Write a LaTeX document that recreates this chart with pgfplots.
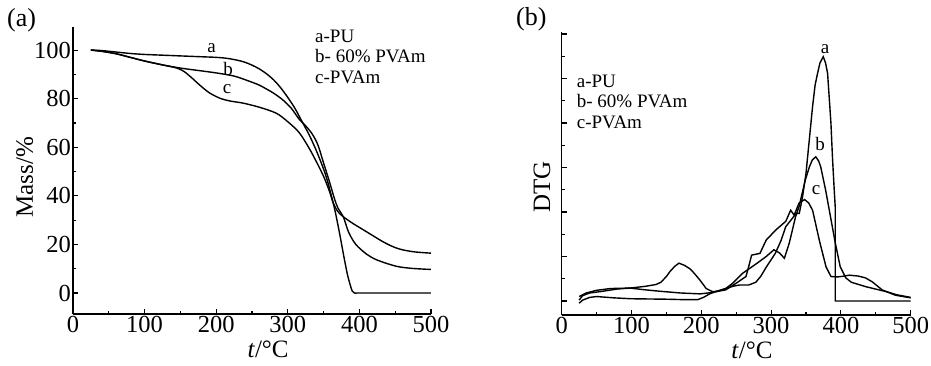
\documentclass[border=0pt]{standalone}
\usepackage{fontspec}
\setmainfont{Liberation Serif}
\usepackage{pgfplots}
\pgfplotsset{compat=1.18}
\begin{document}
\begin{tikzpicture}
\useasboundingbox (0pt,0pt) rectangle (931pt,-366pt);
\pgfplotsset{
  mystyle/.style={
    scale only axis, anchor=south west,
    axis x line*=bottom, axis y line*=left,
    axis line style={line width=1.3pt},
    tick align=inside, tick style={line width=1.1pt, black},
    major tick length=5pt, minor tick length=3pt,
    minor x tick num=1, minor y tick num=1,
    xmin=0, xmax=500, xtick={0,100,...,500},
    /pgf/number format/assume math mode=true,
    tick label style={font=\fontsize{24.5}{28}\selectfont, inner sep=2pt},
  },
  curve/.style={line width=1.4pt, black, no marks},
}
% ---------------- (a) TG ----------------
\begin{axis}[mystyle, at={(73pt,-314pt)}, width=358pt, height=287pt,
  ymin=-8.64, ymax=109.5, ytick={0,20,...,100},
  xlabel={\textit{t}/°C},
  xlabel style={font=\fontsize{25}{30}\selectfont, at={(axis description cs:0.545,0)}, anchor=base, yshift=-43pt},
  ylabel={Mass/\%},
  ylabel style={font=\fontsize{25}{30}\selectfont, at={(axis description cs:0,0.477)}, anchor=base, yshift=40pt},
]
\addplot[curve, smooth, tension=0.5] coordinates {
(25,100)(40,99.8)(60,99.2)(80,98.6)(100,98.2)(125,97.9)(150,97.6)(175,97.3)(200,97.0)(215,96.6)(230,95.8)(240,95)(250,93.8)(260,92.3)(270,90.3)(280,87.8)(290,84.5)(300,80.5)(310,76)(320,70.5)(330,65)(340,58.5)(350,51)(356,45.5)(360,41)(363.6,36.9)(368,31)(373,23.5)(378,15.5)(383,8)(387,3.5)(390,0.8)(393,0)(400,0)(450,0)(500,0)};
\addplot[curve, smooth, tension=0.5] coordinates {
(25,100)(40,99.5)(60,98.5)(80,97)(100,95.5)(125,93.9)(150,92.6)(175,91.6)(200,90.6)(225,89.3)(246,87.2)(260,85.6)(270,84)(280,82.3)(293,79.5)(305,76)(316,71.5)(325,68.8)(334,65.5)(342,61)(350,53.5)(358,46)(365,39)(370,35)(377.5,31.4)(385,25)(395,20)(410,16)(423,13.8)(440,12)(455,10.8)(475,10.1)(500,9.7)};
\addplot[curve, smooth, tension=0.5] coordinates {
(25,100)(40,99.5)(60,98.5)(80,97)(100,95.5)(125,93.9)(145,92.6)(155,91.2)(165,88.8)(177,85.6)(190,82.5)(205,80.2)(220,79)(237,78.2)(260,76.5)(284,74)(300,70.5)(316,66)(330,59.5)(340,54)(350,48)(358,42)(363.6,36.9)(370,33.5)(377.5,31.4)(390,28.8)(400,27)(410,25.2)(420,23.4)(430,21.6)(440,20)(450,18.7)(460,17.8)(475,17)(490,16.6)(500,16.4)};
\end{axis}
% ---------------- (b) DTG ----------------
\begin{axis}[mystyle, at={(561.7pt,-315pt)}, width=349pt, height=283pt,
  ymin=-0.315, ymax=6.045, ytick={0,1,...,6}, yticklabels={},
  xlabel={\textit{t}/°C},
  xlabel style={font=\fontsize{25}{30}\selectfont, at={(axis description cs:0.545,0)}, anchor=base, yshift=-43pt},
  ylabel={DTG},
  ylabel style={font=\fontsize{25}{30}\selectfont, at={(axis description cs:0,0.452)}, anchor=base, yshift=11.7pt},
]
% a - PU
\addplot[curve] coordinates {
(25,-0.05)(30,0.02)(40,0.08)(50,0.1)(75,0.07)(100,0.05)(150,0.04)(175,0.03)(195,0.03)(203,0.08)(212,0.16)(222,0.22)(235,0.28)(245,0.33)(255,0.36)(268,0.36)(278,0.42)(285,0.55)(293,0.76)(306,1.07)(314,1.35)(321,1.67)(330,1.85)(336,1.97)(340.4,1.97)(345,2.34)(350,2.87)(354.7,3.62)(359.4,4.37)(363,4.85)(366.6,5.12)(370,5.35)(374.7,5.49)(378,5.35)(380.9,5.12)(385.7,4.0)(388,3.2)(390.4,2.5)(391.9,2.1)(391.9,0)(400,0)(450,0)(500,0)};
% b - 60% PVAm
\addplot[curve] coordinates {
(25,0.1)(35,0.18)(50,0.24)(70,0.28)(98,0.29)(120,0.25)(140,0.22)(170,0.18)(198,0.16)(210,0.18)(222,0.21)(235,0.28)(245,0.4)(259,0.62)(280,0.85)(293,1.0)(304,1.15)(312,1.08)(319,0.96)(326,1.3)(335,1.89)(340,2.12)(349,2.72)(355,3.02)(359,3.17)(364,3.24)(368,3.15)(371,3.02)(378,2.5)(385,1.9)(392,1.3)(399,0.77)(407,0.52)(415,0.42)(436,0.32)(465,0.21)(480,0.14)(500,0.08)};
% c - PVAm
\addplot[curve] coordinates {
(25,0.02)(30,0.12)(40,0.18)(55,0.21)(80,0.27)(98,0.29)(120,0.33)(135,0.37)(142,0.42)(150,0.55)(155,0.66)(162,0.78)(168,0.85)(176,0.8)(184,0.72)(190,0.62)(198,0.47)(207,0.28)(216,0.21)(225,0.22)(235,0.25)(250,0.4)(264,0.55)(268,0.78)(272,1.03)(284,1.07)(293,1.37)(307,1.6)(321,1.79)(328,2.04)(333,1.93)(340,2.2)(348,2.28)(354,2.2)(359.4,2.04)(369,1.37)(378.6,0.77)(385.7,0.55)(395,0.54)(405,0.56)(412,0.58)(425,0.56)(435,0.52)(445,0.43)(459,0.25)(478,0.13)(500,0.07)};
\end{axis}
% panel letters, legends, curve labels
\node[anchor=base west, font=\fontsize{26}{30}\selectfont, inner sep=0pt] at (7pt,-26.5pt) {(a)};
\node[anchor=base west, font=\fontsize{26}{30}\selectfont, inner sep=0pt] at (516pt,-26pt) {(b)};
\begin{scope}[every node/.style={anchor=base west, font=\fontsize{19}{22}\selectfont, inner sep=0pt}]
\node at (315pt,-43pt) {a-PU};
\node at (315pt,-63pt) {b- 60\% PVAm};
\node at (315pt,-84pt) {c-PVAm};
\node at (576.7pt,-88pt) {a-PU};
\node at (576.7pt,-108pt) {b- 60\% PVAm};
\node at (576.7pt,-129pt) {c-PVAm};
\end{scope}
\begin{scope}[every node/.style={anchor=base, font=\fontsize{19}{22}\selectfont, inner sep=0pt}]
\node at (211.5pt,-53pt) {a};
\node at (228pt,-76pt) {b};
\node at (227pt,-94pt) {c};
\node at (825pt,-54pt) {a};
\node at (820pt,-150.7pt) {b};
\node at (816pt,-195pt) {c};
\end{scope}
\end{tikzpicture}
\end{document}
